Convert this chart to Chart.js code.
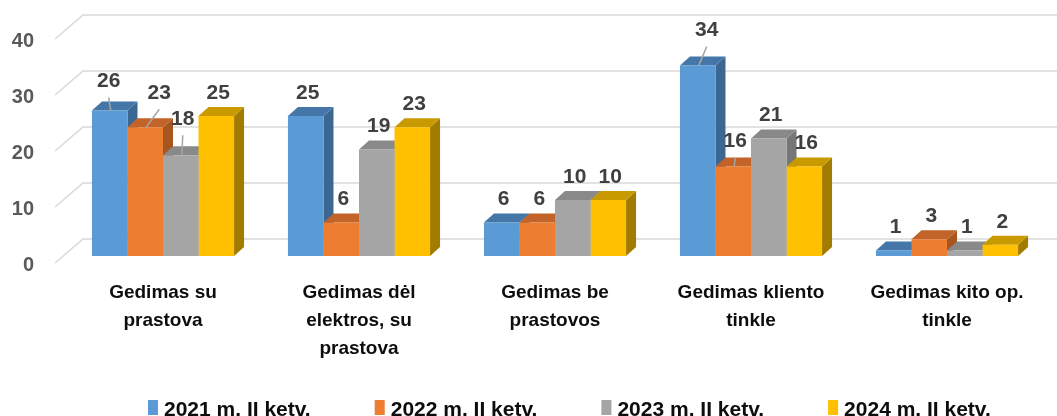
<!DOCTYPE html>
<html>
<head>
<meta charset="utf-8">
<script src="https://cdn.jsdelivr.net/npm/chart.js@4.4.0/dist/chart.umd.min.js"></script>
<style>
html, body { margin: 0; padding: 0; background: #fff; overflow: hidden; }
canvas { display: block; }
</style>
</head>
<body>
<canvas id="myChart" width="1057" height="416"></canvas>
<script>
// Dades del gràfic
const categories = [
    ['Gedimas su', 'prastova'],
    ['Gedimas dėl', 'elektros, su', 'prastova'],
    ['Gedimas be', 'prastovos'],
    ['Gedimas kliento', 'tinkle'],
    ['Gedimas kito op.', 'tinkle']
];
const seriesNames = ['2021 m. II ketv.', '2022 m. II ketv.', '2023 m. II ketv.', '2024 m. II ketv.'];
const values2021 = [26, 25, 6, 34, 1];
const values2022 = [23, 6, 6, 16, 3];
const values2023 = [18, 19, 10, 21, 1];
const values2024 = [25, 23, 10, 16, 2];
const yTicks = [0, 10, 20, 30, 40];

// Colors de les cares (davant, dalt, costat)
const frontColors = ['#5B9BD5', '#ED7D31', '#A5A5A5', '#FFC000'];
const topColors = ['#4476A8', '#C2632A', '#898989', '#C99A00'];
const sideColors = ['#3C6792', '#A8561F', '#777777', '#A27C00'];

// Etiquetes desplaçades amb línia guia: "dataset-categoria": [dx, dy]
const movedLabels = { '0-0': [-3, -6], '1-0': [12, -11], '2-0': [0, -13], '0-3': [7, -12], '1-3': [0, -2] };

const DX = 10, DY = 9;
const FONT = '"Liberation Sans", Arial, sans-serif';

const barBox = (chart, d, i) => {
    const bar = chart.getDatasetMeta(d).data[i];
    const p = bar.getProps(['x', 'y', 'base', 'width'], true);
    return { l: p.x - p.width / 2, r: p.x + p.width / 2, cx: p.x, top: p.y, base: p.base };
};

const threeD = {
    id: 'threeD',
    beforeDatasetsDraw(chart) {
        const ctx = chart.ctx;
        const y = chart.scales.y;
        const left = chart.chartArea.left;
        ctx.save();
        // paret del fons i línies de la graella
        ctx.strokeStyle = '#D9D9D9';
        ctx.lineWidth = 1.5;
        yTicks.forEach(v => {
            const py = y.getPixelForValue(v);
            ctx.beginPath();
            ctx.moveTo(left - 10, py + 7);
            ctx.lineTo(left + 18, py - 17);
            ctx.lineTo(chart.width, py - 17);
            ctx.stroke();
        });
        // etiquetes de l'eix Y
        ctx.fillStyle = '#595959';
        ctx.font = 'bold 20px ' + FONT;
        ctx.textAlign = 'right';
        ctx.textBaseline = 'middle';
        yTicks.forEach(v => ctx.fillText(String(v), left - 31, y.getPixelForValue(v) + 9.5));

        // cares de costat i de dalt
        categories.forEach((c, i) => {
            chart.data.datasets.forEach((ds, d) => {
                const b = barBox(chart, d, i);
                ctx.fillStyle = sideColors[d];
                ctx.beginPath();
                ctx.moveTo(b.r, b.base);
                ctx.lineTo(b.r + DX, b.base - DY);
                ctx.lineTo(b.r + DX, b.top - DY);
                ctx.lineTo(b.r, b.top);
                ctx.closePath();
                ctx.fill();
                ctx.fillStyle = topColors[d];
                ctx.beginPath();
                ctx.moveTo(b.l, b.top);
                ctx.lineTo(b.l + DX, b.top - DY);
                ctx.lineTo(b.r + DX, b.top - DY);
                ctx.lineTo(b.r, b.top);
                ctx.closePath();
                ctx.fill();
            });
        });
        ctx.restore();
    },
    afterDatasetsDraw(chart) {
        const ctx = chart.ctx;
        const x = chart.scales.x;
        const y = chart.scales.y;
        ctx.save();
        ctx.textBaseline = 'middle';
        ctx.textAlign = 'center';

        // valors sobre les barres
        ctx.font = 'bold 21px ' + FONT;
        chart.data.datasets.forEach((ds, d) => {
            ds.data.forEach((v, i) => {
                const b = barBox(chart, d, i);
                let lx = b.cx + 2, ly = b.top - 23;
                const mv = movedLabels[d + '-' + i];
                if (mv) {
                    lx += mv[0];
                    ly += mv[1];
                    ctx.strokeStyle = '#A6A6A6';
                    ctx.lineWidth = 1.5;
                    ctx.beginPath();
                    ctx.moveTo(lx, ly + 16);
                    ctx.lineTo(b.cx + 1, b.top);
                    ctx.stroke();
                }
                ctx.fillStyle = '#404040';
                ctx.fillText(String(v), lx, ly);
            });
        });

        // etiquetes de les categories
        ctx.fillStyle = '#0D0D0D';
        ctx.font = 'bold 19px ' + FONT;
        const y0 = y.getPixelForValue(0);
        categories.forEach((lines, i) => {
            const px = x.getPixelForValue(i);
            lines.forEach((t, k) => ctx.fillText(t, px, y0 + 37 + k * 28));
        });

        // llegenda
        ctx.font = 'bold 21px ' + FONT;
        ctx.textAlign = 'left';
        ctx.textBaseline = 'alphabetic';
        let lx = 148;
        chart.data.datasets.forEach((ds, d) => {
            ctx.fillStyle = frontColors[d];
            ctx.fillRect(lx, 400, 10, 15);
            ctx.fillStyle = '#0D0D0D';
            ctx.fillText(ds.label, lx + 16, 416);
            lx += 16 + ctx.measureText(ds.label).width + 64;
        });
        ctx.restore();
    }
};

const allValues = [values2021, values2022, values2023, values2024];

const chart = new Chart(document.getElementById('myChart').getContext('2d'), {
    type: 'bar',
    data: {
        labels: categories,
        datasets: allValues.map((vals, d) => ({
            label: seriesNames[d],
            data: vals,
            backgroundColor: frontColors[d],
            borderWidth: 0,
            categoryPercentage: 0.725,
            barPercentage: 1.0
        }))
    },
    options: {
        responsive: false,
        animation: false,
        layout: { padding: { left: 65, right: 12, top: 32, bottom: 160 } },
        plugins: { legend: { display: false }, tooltip: { enabled: false } },
        scales: {
            x: { display: false },
            y: { display: false, min: 0, max: 40 }
        }
    },
    plugins: [threeD]
});
</script>
</body>
</html>
